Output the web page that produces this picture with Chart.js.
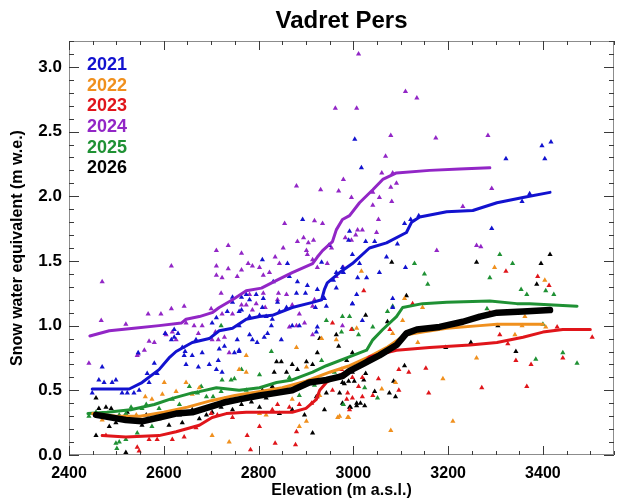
<!DOCTYPE html>
<html><head><meta charset="utf-8">
<script src="https://cdn.jsdelivr.net/npm/chart.js@4.4.1/dist/chart.umd.min.js"></script>
<style>html,body{margin:0;padding:0;background:#fff}</style>
</head><body>
<canvas id="c" width="619" height="500"></canvas>
<script>
// ---------------- DATA ----------------
const chartTitle = 'Vadret Pers';
const xTitle = 'Elevation (m a.s.l.)';
const yTitle = 'Snow water equivalent (m w.e.)';
const years = ['2021', '2022', '2023', '2024', '2025', '2026'];
const xTickValues = [2400, 2600, 2800, 3000, 3200, 3400];
const yTickValues = [0.0, 0.5, 1.0, 1.5, 2.0, 2.5, 3.0];

// smoothed profiles [elevation, SWE]
const line2021 = [[2449,0.51],[2527,0.51],[2554,0.56],[2590,0.66],[2611,0.75],[2626,0.80],[2660,0.87],[2696,0.90],[2717,0.96],[2745,0.98],[2774,1.05],[2802,1.07],[2829,1.08],[2871,1.14],[2914,1.18],[2933,1.20],[2939,1.28],[2945,1.33],[2971,1.41],[2998,1.48],[3034,1.60],[3070,1.64],[3112,1.72],[3123,1.80],[3140,1.84],[3197,1.88],[3252,1.89],[3303,1.95],[3358,1.99],[3415,2.03]];
const line2022 = [[2450,0.32],[2500,0.30],[2550,0.30],[2600,0.33],[2650,0.37],[2700,0.42],[2750,0.46],[2800,0.49],[2850,0.52],[2900,0.57],[2950,0.64],[2992,0.69],[3034,0.76],[3070,0.83],[3098,0.90],[3112,0.93],[3146,0.95],[3197,0.98],[3267,1.00],[3303,1.01],[3400,1.01]];
const line2023 = [[2470,0.15],[2520,0.14],[2590,0.15],[2626,0.18],[2675,0.23],[2702,0.29],[2732,0.32],[2774,0.33],[2816,0.33],[2871,0.33],[2900,0.36],[2922,0.43],[2929,0.50],[2943,0.56],[2960,0.60],[2985,0.64],[3013,0.68],[3034,0.76],[3091,0.81],[3161,0.83],[3246,0.85],[3303,0.87],[3358,0.91],[3400,0.95],[3442,0.97],[3500,0.97]];
const line2024 = [[2444,0.92],[2485,0.96],[2537,0.98],[2590,1.00],[2637,1.02],[2647,1.05],[2675,1.07],[2702,1.10],[2717,1.14],[2745,1.20],[2774,1.27],[2806,1.29],[2838,1.35],[2871,1.41],[2914,1.48],[2924,1.53],[2935,1.58],[2956,1.65],[2964,1.74],[2977,1.82],[2992,1.85],[3013,1.95],[3041,2.05],[3062,2.13],[3091,2.18],[3161,2.20],[3224,2.21],[3288,2.22]];
const line2025 = [[2440,0.32],[2480,0.33],[2530,0.35],[2580,0.39],[2620,0.44],[2660,0.48],[2675,0.49],[2711,0.52],[2759,0.50],[2802,0.52],[2838,0.56],[2871,0.58],[2914,0.64],[2943,0.69],[2986,0.75],[3013,0.79],[3028,0.81],[3041,0.89],[3062,0.97],[3091,1.07],[3104,1.14],[3146,1.17],[3197,1.18],[3288,1.19],[3345,1.17],[3372,1.17],[3472,1.15]];
const line2026 = [[2457,0.31],[2520,0.27],[2554,0.26],[2590,0.29],[2626,0.32],[2660,0.33],[2696,0.37],[2732,0.41],[2759,0.43],[2802,0.46],[2838,0.48],[2871,0.50],[2907,0.56],[2943,0.58],[2977,0.61],[2992,0.65],[3019,0.70],[3055,0.77],[3091,0.85],[3112,0.94],[3134,0.97],[3182,0.99],[3231,1.03],[3267,1.07],[3303,1.10],[3358,1.11],[3415,1.12]];

// point measurements [elevation, SWE]
const pts2021 = [[3003,2.44],[3322,2.29],[3398,2.39],[3417,2.42],[3404,2.29],[3017,2.22],[3372,2.02],[3356,1.96],[3292,1.75],[3138,1.85],[3121,1.82],[3108,1.79],[2992,1.73],[2990,1.66],[3026,1.65],[3045,1.65],[3093,1.63],[2998,1.55],[3070,1.53],[3013,1.48],[2977,1.45],[3110,1.45],[3055,1.41],[3009,1.37],[3028,1.37],[2958,1.35],[2964,1.29],[3007,1.24],[2998,1.17],[3083,1.21],[3083,1.14],[3019,1.04],[2893,1.82],[2808,1.51],[2861,1.48],[2865,1.38],[2831,1.34],[2882,1.34],[2903,1.31],[2924,1.28],[2933,1.49],[2948,1.62],[2964,1.41],[2979,1.41],[2943,1.15],[2939,1.21],[2880,1.25],[2899,1.25],[2920,1.14],[2859,1.14],[2840,1.18],[2810,1.21],[2795,1.24],[2774,1.24],[2764,1.22],[2745,1.22],[2745,1.18],[2734,1.11],[2759,1.11],[2781,1.20],[2808,1.14],[2603,0.94],[2622,0.97],[2622,0.91],[2630,0.94],[2616,0.89],[2668,0.89],[2711,1.06],[2702,1.02],[2764,1.12],[2759,1.00],[2781,1.07],[2802,1.08],[2816,1.07],[2827,1.00],[2844,1.11],[2829,1.05],[2871,1.00],[2886,1.00],[2922,0.95],[2924,0.99],[2781,0.93],[2787,0.89],[2797,0.87],[2812,0.91],[2819,0.94],[2848,0.89],[2755,0.89],[2728,0.84],[2717,0.82],[2749,0.79],[2759,0.81],[2660,0.77],[2639,0.83],[2643,0.77],[2470,0.68],[2463,0.58],[2474,0.56],[2491,0.56],[2499,0.58],[2512,0.48],[2523,0.48],[2537,0.48],[2449,0.48],[2548,0.50],[2546,0.79],[2565,0.63],[2580,0.71],[2586,0.63],[2569,0.56],[2645,0.80],[2647,0.70],[2673,0.68],[2696,0.70],[2711,0.66],[2723,0.64],[2759,0.80],[2715,0.73],[2681,0.79],[2998,1.17]];
const pts2022 = [[3298,1.45],[3404,1.35],[3017,1.42],[3146,1.14],[3108,1.21],[3362,1.07],[3104,1.04],[3007,0.98],[3083,0.94],[3110,0.94],[3356,1.00],[3406,0.99],[3136,0.87],[3341,0.93],[3260,0.75],[3189,0.59],[3210,0.26],[3079,0.19],[3089,0.56],[3060,0.51],[2971,0.30],[2990,0.29],[2933,0.90],[2774,0.77],[2601,0.56],[2647,0.56],[2626,0.49],[2575,0.43],[2561,0.45],[2597,0.47],[2660,0.47],[2675,0.52],[2470,0.27],[2542,0.31],[2702,0.15],[2738,0.10],[2759,0.66],[2774,0.64],[2880,0.83],[2901,0.68],[2886,0.22],[2901,0.26],[2964,0.89],[2967,0.29],[2988,0.29],[2871,0.43],[2816,0.31],[2802,0.32],[2855,0.50],[2929,0.46]];
const pts2023 = [[3322,1.42],[3389,1.38],[3413,1.31],[3022,1.27],[3125,1.17],[3288,1.10],[2956,1.02],[2996,0.97],[3077,0.97],[3430,0.99],[3309,0.93],[3326,0.86],[3343,0.73],[3375,0.70],[3442,0.75],[3153,0.67],[3271,0.52],[3366,0.53],[3159,0.48],[3117,0.64],[3096,0.66],[3096,0.50],[3041,0.46],[3053,0.59],[3019,0.60],[3011,0.53],[2998,0.44],[2988,0.48],[3019,0.45],[2478,0.15],[2544,0.06],[2569,0.12],[2586,0.12],[2618,0.12],[2643,0.14],[2668,0.21],[2700,0.32],[2713,0.31],[2745,0.29],[2776,0.15],[2802,0.22],[2829,0.35],[2840,0.39],[2865,0.37],[2886,0.39],[2880,0.18],[2912,0.40],[2924,0.45],[2929,0.56],[2956,0.50],[2975,0.66],[2998,0.60],[2986,0.43],[2992,0.35],[2548,0.03],[2783,0.04],[2835,0.09],[2878,0.08],[3504,0.91]];
const pts2024 = [[3011,3.10],[2962,2.68],[3007,2.68],[3110,2.81],[3134,2.76],[3079,2.47],[3174,2.45],[3284,2.47],[3068,2.31],[3060,2.18],[3083,2.18],[2979,2.13],[3091,2.10],[2969,2.04],[3079,2.07],[3041,2.03],[2996,1.99],[3055,1.99],[3081,1.96],[3041,1.93],[3292,2.06],[3231,1.92],[3053,1.82],[3009,1.74],[3019,1.74],[3049,1.72],[3005,1.70],[3176,1.58],[3260,1.62],[3269,1.61],[2954,1.60],[2964,1.38],[2470,1.34],[2616,1.46],[2880,2.08],[2931,2.05],[2855,1.79],[2918,1.81],[2935,1.79],[2711,1.58],[2736,1.62],[2764,1.56],[2711,1.46],[2711,1.39],[2723,1.37],[2736,1.44],[2755,1.38],[2764,1.43],[2778,1.48],[2787,1.46],[2802,1.45],[2810,1.39],[2823,1.41],[2835,1.53],[2844,1.48],[2852,1.60],[2882,1.65],[2895,1.68],[2905,1.64],[2916,1.66],[2901,1.58],[2903,1.55],[2914,1.51],[2950,1.62],[2983,1.68],[2996,1.66],[2945,1.48],[2979,1.45],[2924,1.45],[2810,1.25],[2781,1.24],[2774,1.16],[2795,1.17],[2721,1.25],[2723,1.09],[2745,1.09],[2700,1.13],[2643,1.15],[2616,1.13],[2594,1.09],[2567,1.09],[2859,1.24],[2871,1.16],[2918,1.20],[2842,1.25],[2886,1.09],[2468,1.04],[2520,1.01],[2569,0.88],[2580,0.87],[2546,0.78],[2605,0.93],[2618,0.95],[2647,1.02],[2664,1.00],[2681,1.00],[2673,0.94],[2702,0.89],[2715,0.89],[2709,0.95],[2764,1.16],[2787,1.12],[2814,1.14],[2840,1.20],[2914,1.15],[2865,0.99],[2880,1.00],[2897,1.02],[2914,0.93],[2728,0.91],[2442,0.71],[2544,0.77],[2559,0.81],[2603,0.94],[2626,0.89],[2738,0.79],[2977,1.00]];
const pts2025 = [[3309,1.55],[3336,1.48],[3129,1.48],[3150,1.40],[3157,1.32],[3288,1.37],[3354,1.28],[3366,1.24],[3406,1.27],[3423,1.24],[3083,1.15],[3072,1.11],[2977,1.07],[2992,1.07],[3282,1.13],[3041,0.99],[2975,0.95],[3011,0.93],[3400,1.01],[3385,0.74],[3442,0.79],[3472,0.71],[3051,0.44],[3024,0.52],[2979,0.39],[2721,1.00],[2827,0.80],[2943,1.04],[2998,0.97],[2654,0.53],[2671,0.48],[2679,0.53],[2690,0.45],[2704,0.45],[2721,0.49],[2742,0.58],[2749,0.59],[2723,0.58],[2764,0.66],[2802,0.62],[2728,0.43],[2774,0.50],[2618,0.43],[2633,0.39],[2590,0.36],[2554,0.36],[2563,0.39],[2531,0.37],[2520,0.32],[2506,0.31],[2485,0.29],[2442,0.30],[2457,0.33],[2499,0.09],[2506,0.10],[2520,0.12],[2544,0.17],[2575,0.22],[2501,0.05],[2865,0.60],[2886,0.46],[2918,0.54],[2960,0.64],[2933,0.73]];
const pts2026 = [[3260,1.49],[3415,1.55],[3396,1.48],[3081,1.49],[3387,1.32],[3112,1.23],[3026,1.08],[3072,1.03],[2964,0.93],[3305,1.00],[3248,0.87],[3195,0.83],[3343,0.80],[3108,0.69],[3085,0.57],[3076,0.48],[3089,0.45],[3045,0.49],[3022,0.58],[3026,0.63],[2981,0.55],[3002,0.57],[2990,0.57],[3015,0.40],[3007,0.38],[2977,0.40],[2994,0.37],[3024,0.38],[2457,0.44],[2478,0.37],[2489,0.36],[2463,0.36],[2516,0.29],[2523,0.33],[2499,0.25],[2485,0.22],[2457,0.15],[2520,0.02],[2563,0.31],[2554,0.23],[2590,0.28],[2611,0.23],[2633,0.31],[2639,0.25],[2660,0.35],[2675,0.28],[2690,0.31],[2702,0.33],[2721,0.37],[2734,0.41],[2745,0.35],[2764,0.39],[2774,0.45],[2785,0.41],[2802,0.37],[2816,0.44],[2838,0.72],[2848,0.72],[2833,0.64],[2859,0.64],[2871,0.70],[2882,0.66],[2901,0.72],[2914,0.70],[2924,0.79],[2886,0.53],[2901,0.56],[2829,0.53],[2808,0.50],[2844,0.32],[2871,0.35],[2897,0.31],[2922,0.45],[2943,0.48],[2939,0.35],[2914,0.17],[2986,0.73],[2998,0.79],[2977,0.56],[2998,0.64],[2971,0.48],[2992,0.37],[3007,0.40],[2929,0.90],[2969,0.84]];

// ---------------- STYLE ----------------
const colors = ['#1212cf', '#f0901e', '#e0151a', '#9226c6', '#1f9134', '#000000'];
const lines = [line2021, line2022, line2023, line2024, line2025, line2026];
const points = [pts2021, pts2022, pts2023, pts2024, pts2025, pts2026];
const lineOrder = [2, 3, 1, 5, 4, 0]; // lower = drawn on top
const FONT = "'Liberation Sans', Arial, Helvetica, sans-serif";
Chart.defaults.font.family = FONT;

const toXY = arr => arr.map(p => ({x: p[0], y: p[1]}));
const datasets = [];
years.forEach((yr, i) => {
  datasets.push({
    label: yr + ' profile', data: toXY(lines[i]), showLine: true,
    borderColor: colors[i], borderWidth: i === 5 ? 6.5 : 3, pointRadius: 0,
    tension: 0, order: lineOrder[i], borderCapStyle: 'round', borderJoinStyle: 'round'
  });
});
years.forEach((yr, i) => {
  datasets.push({
    label: yr, data: toXY(points[i]), showLine: false,
    pointStyle: 'triangle', pointRadius: 3, pointBorderWidth: 0,
    pointBackgroundColor: colors[i], backgroundColor: colors[i], borderColor: colors[i],
    order: 10 + i
  });
});

const decor = {
  id: 'decor',
  afterDatasetsDraw(chart) {
    const {ctx, chartArea: a, scales: {x, y}} = chart;
    ctx.save();
    // frame
    ctx.strokeStyle = '#8c8c8c'; ctx.lineWidth = 1;
    ctx.strokeRect(a.left + 0.5, a.top + 0.5, a.right - a.left - 1, a.bottom - a.top - 1);
    // inward ticks
    ctx.strokeStyle = '#3a3a3a';
    ctx.beginPath();
    for (let v = x.min; v <= x.max + 0.001; v += 50) {
      const px = Math.round(x.getPixelForValue(v)) + 0.5;
      const len = (xTickValues.includes(v)) ? 9 : 4;
      ctx.moveTo(px, a.bottom); ctx.lineTo(px, a.bottom - len);
      ctx.moveTo(px, a.top); ctx.lineTo(px, a.top + len);
    }
    for (let i = 0; i <= 32; i++) {
      const py = Math.round(y.getPixelForValue(i / 10)) + 0.5;
      const len = (i % 5 === 0) ? 10 : 5;
      ctx.moveTo(a.left, py); ctx.lineTo(a.left + len, py);
      ctx.moveTo(a.right, py); ctx.lineTo(a.right - len, py);
    }
    ctx.stroke();
    // title
    ctx.fillStyle = '#000';
    ctx.font = 'bold 24px ' + FONT;
    ctx.textAlign = 'center'; ctx.textBaseline = 'middle';
    ctx.fillText(chartTitle, (a.left + a.right) / 2, 21);
    // legend (coloured year labels)
    ctx.font = 'bold 18px ' + FONT;
    ctx.textAlign = 'left';
    years.forEach((yr, i) => {
      ctx.fillStyle = colors[i];
      ctx.fillText(yr, 87, 65 + i * 20.7);
    });
    ctx.restore();
  }
};

new Chart(document.getElementById('c'), {
  type: 'scatter',
  data: {datasets},
  options: {
    responsive: false, animation: false,
    layout: {padding: {top: 41, right: 5, left: 0, bottom: 0}},
    plugins: {legend: {display: false}, tooltip: {enabled: false}, title: {display: false}},
    scales: {
      x: {
        type: 'linear', min: 2400, max: 3550,
        grid: {display: false, drawTicks: false}, border: {display: false},
        afterFit: s => { s.height = 45; },
        ticks: {
          stepSize: 200, includeBounds: false, padding: 9, color: '#000',
          font: {size: 16, weight: 'bold'}, maxRotation: 0,
          callback: v => xTickValues.includes(v) ? String(v) : ''
        },
        title: {display: true, text: xTitle, color: '#000', font: {size: 16, weight: 'bold'}, padding: {top: 0, bottom: 0}}
      },
      y: {
        type: 'linear', min: 0, max: 3.2,
        grid: {display: false, drawTicks: false}, border: {display: false},
        afterFit: s => { s.width = 69; },
        ticks: {
          stepSize: 0.5, includeBounds: false, padding: 7, color: '#000',
          font: {size: 17, weight: 'bold'},
          callback: v => yTickValues.some(t => Math.abs(t - v) < 1e-6) ? v.toFixed(1) : ''
        },
        title: {display: true, text: yTitle, color: '#000', font: {size: 16, weight: 'bold'}, padding: {top: 8, bottom: 0}}
      }
    }
  },
  plugins: [decor]
});
</script>
</body></html>
